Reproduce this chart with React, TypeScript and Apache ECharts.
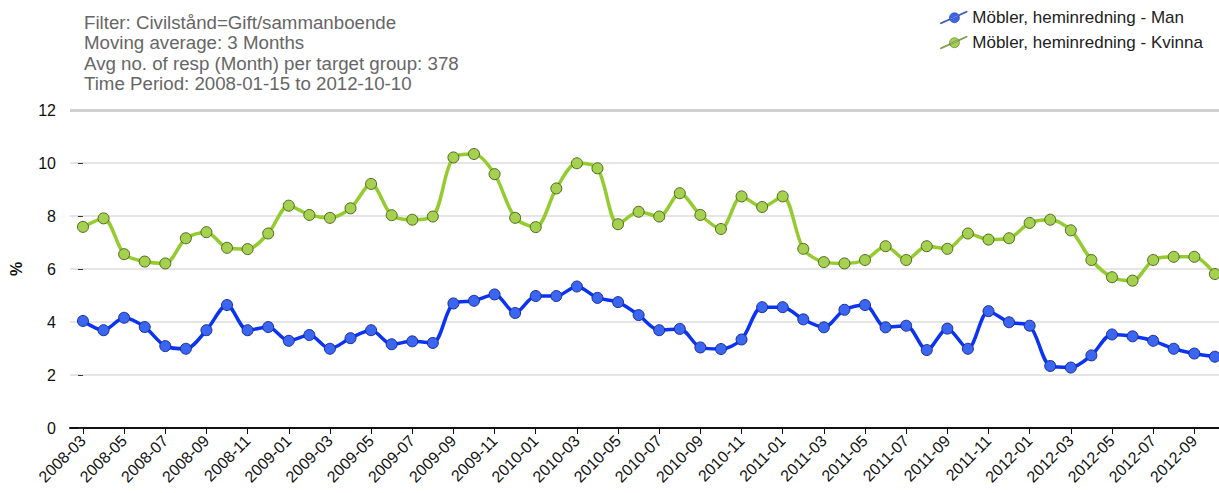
import React, { useEffect, useRef } from "react";
import * as echarts from "echarts";

const months: string[] = [
  "2008-03","2008-04","2008-05","2008-06","2008-07","2008-08","2008-09","2008-10","2008-11","2008-12",
  "2009-01","2009-02","2009-03","2009-04","2009-05","2009-06","2009-07","2009-08","2009-09","2009-10","2009-11","2009-12",
  "2010-01","2010-02","2010-03","2010-04","2010-05","2010-06","2010-07","2010-08","2010-09","2010-10","2010-11","2010-12",
  "2011-01","2011-02","2011-03","2011-04","2011-05","2011-06","2011-07","2011-08","2011-09","2011-10","2011-11","2011-12",
  "2012-01","2012-02","2012-03","2012-04","2012-05","2012-06","2012-07","2012-08","2012-09","2012-10",
];

const man: number[] = [
  4.04, 3.69, 4.16, 3.81, 3.09, 2.99, 3.69, 4.64, 3.69, 3.81,
  3.29, 3.51, 2.99, 3.39, 3.69, 3.16, 3.27, 3.21, 4.70, 4.80, 5.04, 4.34,
  4.98, 4.98, 5.34, 4.91, 4.75, 4.26, 3.69, 3.74, 3.04, 2.98, 3.34, 4.56,
  4.56, 4.10, 3.80, 4.46, 4.64, 3.80, 3.86, 2.94, 3.75, 2.99, 4.41, 3.99,
  3.86, 2.34, 2.28, 2.74, 3.53, 3.46, 3.29, 2.99, 2.81, 2.69,
];

const kvinna: number[] = [
  7.59, 7.91, 6.56, 6.28, 6.21, 7.16, 7.39, 6.80, 6.75, 7.34,
  8.39, 8.04, 7.93, 8.29, 9.21, 8.03, 7.86, 7.98, 10.21, 10.34, 9.58, 7.93,
  7.58, 9.04, 9.99, 9.80, 7.69, 8.16, 7.98, 8.86, 8.04, 7.51, 8.74, 8.34,
  8.74, 6.76, 6.26, 6.21, 6.34, 6.86, 6.34, 6.86, 6.76, 7.34, 7.11, 7.16,
  7.74, 7.86, 7.46, 6.34, 5.69, 5.56, 6.34, 6.46, 6.46, 5.81,
];

const yTicks: number[] = [0, 2, 4, 6, 8, 10, 12];
const labelIdx: number[] = months.map((_, i) => i).filter((i) => i % 2 === 0);

const titleLines: string[] = [
  "Filter: Civilstånd=Gift/sammanboende",
  "Moving average: 3 Months",
  "Avg no. of resp (Month) per target group: 378",
  "Time Period: 2008-01-15 to 2012-10-10",
];

const seriesNames: string[] = ["Möbler, heminredning - Man", "Möbler, heminredning - Kvinna"];

const FONT = "'Liberation Sans', Arial, Helvetica, sans-serif";
const LEGEND_ICON =
  "path://M0,13.2 L24.5,2.2 L25,3 L0.5,14 Z M8.5,8.3 a4.6,4.6 0 1,0 9.2,0 a4.6,4.6 0 1,0 -9.2,0 Z";

export default function App() {
  const ref = useRef<HTMLDivElement>(null);
  useEffect(() => {
    if (!ref.current) return;
    const chart = echarts.init(ref.current, undefined, { renderer: "svg" });
    chart.setOption({
      animation: false,
      backgroundColor: "#ffffff",
      textStyle: { fontFamily: FONT },
      title: {
        text: titleLines.join("\n"),
        left: 79,
        top: 7,
        textStyle: { fontSize: 18.7, color: "#666666", fontWeight: "normal", lineHeight: 20.4, fontFamily: FONT },
      },
      legend: {
        orient: "vertical",
        left: 935,
        top: 4,
        itemWidth: 27,
        itemHeight: 15,
        itemGap: 8,
        icon: LEGEND_ICON,
        itemStyle: { borderWidth: 0.6 },
        textStyle: { fontSize: 17, color: "#222222", fontFamily: FONT },
        data: seriesNames,
      },
      grid: { left: 68, right: 0, top: 110, bottom: 65, containLabel: false },
      xAxis: {
        type: "value",
        min: -0.63,
        max: 55.2,
        splitLine: { show: false },
        axisLine: { show: true, lineStyle: { color: "#111111", width: 2 } },
        axisTick: { show: true, length: 6, customValues: labelIdx, lineStyle: { color: "#111111", width: 1 } },
        axisLabel: {
          customValues: labelIdx,
          rotate: 45,
          fontSize: 16,
          color: "#111111",
          margin: 10,
          fontFamily: FONT,
          formatter: (v: number) => months[Math.round(v)] ?? "",
        },
      },
      yAxis: {
        type: "value",
        min: 0,
        max: 12,
        interval: 2,
        name: "%",
        nameLocation: "middle",
        nameGap: 46,
        nameTextStyle: { fontSize: 16, fontWeight: "bold", color: "#111111", fontFamily: FONT },
        axisLine: { show: false },
        axisTick: { show: true, length: 5, lineStyle: { color: "#333333" } },
        axisLabel: {
          fontSize: 16,
          color: "#111111",
          margin: 14,
          fontFamily: FONT,
          customValues: yTicks,
        },
        splitLine: { show: true, lineStyle: { color: "#dcdcdc", width: 1.5 } },
      },
      series: [
        {
          name: seriesNames[0],
          type: "line",
          smooth: 0.3,
          data: man.map((v, i) => [i, v]),
          symbol: "circle",
          symbolSize: 11,
          lineStyle: { color: "#0a33f5", width: 3.5 },
          itemStyle: { color: "#3a66f2", borderColor: "#1b2d99", borderWidth: 1 },
          z: 3,
          markLine: {
            silent: true,
            symbol: "none",
            label: { show: false },
            lineStyle: { color: "#d0d0d0", width: 3, type: "solid" },
            data: [{ yAxis: 12 }],
            z: 1,
          },
        },
        {
          name: seriesNames[1],
          type: "line",
          smooth: 0.3,
          data: kvinna.map((v, i) => [i, v]),
          symbol: "circle",
          symbolSize: 11,
          lineStyle: { color: "#94cb2e", width: 3.5 },
          itemStyle: { color: "#a6d150", borderColor: "#4d6b1c", borderWidth: 1 },
          z: 3,
        },
      ],
    });
    return () => chart.dispose();
  }, []);
  return (
    <div
      ref={ref}
      style={{ position: "fixed", left: 0, top: 0, width: 1219, height: 493, background: "#fff" }}
    />
  );
}
